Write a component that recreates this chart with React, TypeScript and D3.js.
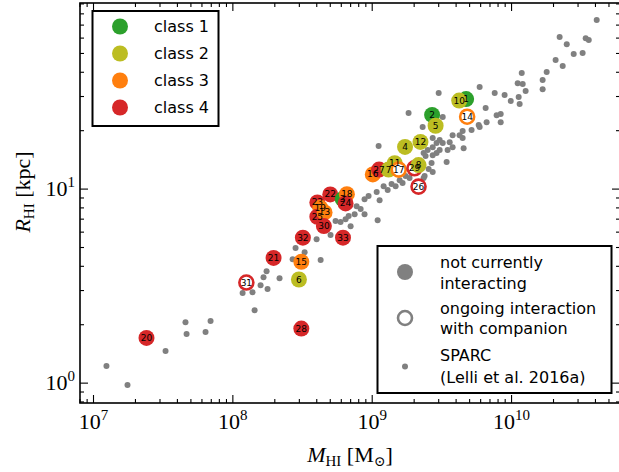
import React from "react";
import * as d3 from "d3";

// Sample galaxies (draw order), their class, HI mass [Msun], HI radius [kpc]
const galaxyIds = [16, 27, 7, 11, 17, 29, 8, 4, 12, 26, 1, 10, 2, 5, 14, 22, 3, 18, 24, 23, 19, 25, 13, 30, 32, 33, 21, 15, 6, 31, 28, 20];
const galaxyClass = [3, 4, 2, 2, 3, 4, 2, 2, 2, 4, 1, 2, 1, 2, 3, 4, 1, 3, 4, 4, 3, 4, 3, 4, 4, 4, 4, 3, 2, 4, 4, 4];
const galaxyMHI = [1.01e9, 1.12e9, 1.31e9, 1.45e9, 1.55e9, 2.01e9, 2.15e9, 1.72e9, 2.22e9, 2.15e9, 4.72e9, 4.21e9, 2.69e9, 2.85e9, 4.8e9, 5.0e8, 6.14e8, 6.58e8, 6.44e8, 4.04e8, 4.24e8, 4.04e8, 4.55e8, 4.5e8, 3.18e8, 6.17e8, 1.96e8, 3.1e8, 2.98e8, 1.25e8, 3.1e8, 2.4e7];
const galaxyRHI = [11.9, 12.6, 12.6, 13.6, 12.6, 12.8, 13.3, 16.5, 17.5, 10.3, 29.1, 28.6, 24.1, 21.2, 23.6, 9.39, 8.88, 9.42, 8.44, 8.54, 8.01, 7.2, 7.58, 6.45, 5.62, 5.62, 4.42, 4.22, 3.42, 3.3, 1.91, 1.71];
const interacting = [17, 29, 26, 14, 31];

// SPARC comparison sample, log10 M_HI [Msun] and log10 R_HI [kpc]
const sparcLogM = [7.093, 7.244, 7.517, 7.66, 7.668, 7.804, 7.84, 8.156, 8.07, 8.141, 8.199, 8.249, 8.22, 8.242, 8.335, 8.429, 8.45, 8.515, 8.601, 8.63, 8.701,
  8.737, 8.773, 8.809, 8.845, 8.831, 8.874, 8.888, 8.917, 8.945, 8.945, 8.974, 9.039, 9.032, 9.053, 9.082, 9.111, 9.139, 9.168, 9.197, 9.218, 9.24, 9.268, 9.283, 9.376,
  9.369, 9.398, 9.434, 9.462, 9.046, 9.383, 9.434, 9.462, 9.484, 9.541, 9.534, 9.434, 9.484, 9.506, 9.556, 9.577, 9.577, 9.627, 9.649, 9.649, 9.656, 9.713, 9.764, 9.771,
  9.821, 9.814, 9.893, 9.922, 9.922, 9.506, 9.261, 9.362, 9.477, 9.771, 9.879, 9.95, 9.994, 10.051, 10.058, 10.044, 10.08, 10.101, 10.073, 10.223, 10.223, 10.252,
  10.345, 10.396, 10.446, 10.51, 10.532, 10.554, 10.611, 10.316, 10.367, 9.426, 9.405, 9.369, 9.434];
const sparcLogR = [0.088, -0.01, 0.165, 0.314, 0.253, 0.263, 0.32, 0.376, 0.464, 0.469, 0.505, 0.485, 0.546, 0.577, 0.541, 0.639, 0.696, 0.675, 0.742, 0.634, 0.763,
  0.835, 0.83, 0.845, 0.809, 0.861, 0.871, 0.912, 0.897, 0.871, 0.948, 0.964, 0.84, 0.985, 0.943, 1.015, 0.995, 1.026, 1.015, 1.046, 1.031, 1.067, 1.057, 1.088, 1.067,
  1.186, 1.201, 1.216, 1.237, 1.222, 1.17, 1.175, 1.186, 1.201, 1.201, 1.139, 1.263, 1.253, 1.237, 1.242, 1.216, 1.278, 1.278, 1.299, 1.263, 1.211, 1.304, 1.33, 1.32,
  1.345, 1.418, 1.381, 1.387, 1.345, 1.371, 1.392, 1.32, 1.495, 1.526, 1.495, 1.485, 1.454, 1.474, 1.438, 1.546, 1.541, 1.505, 1.598, 1.562, 1.515, 1.603,
  1.784, 1.747, 1.696, 1.701, 1.778, 1.768, 1.871, 1.665, 1.634, 1.134, 1.103, 1.057, 1.088];

const classNames = ["class 1", "class 2", "class 3", "class 4"];
const classColors = ["#2ca02c", "#bcbd22", "#ff7f0e", "#d62728"];
const xMajor = [7, 8, 9, 10];
const yMajor = [0, 1];

const W = 619;
const H = 472;
const left = 80, right = 620, top = 3, bottom = 403;
const serif = "'Liberation Serif', 'DejaVu Serif', serif";
const sans = "'DejaVu Sans', sans-serif";

export default function App() {
  const x = d3.scaleLog().domain([8e6, 6e10]).range([left, right]);
  const y = d3.scaleLog().domain([0.79, 91]).range([bottom, top]);

  const minor = (dom: number[]) => {
    const out: number[] = [];
    for (let e = -1; e <= 11; e++) {
      for (let k = 2; k <= 9; k++) {
        const v = k * Math.pow(10, e);
        if (v >= dom[0] && v <= dom[1]) out.push(v);
      }
    }
    return out;
  };
  const xMinor = minor(x.domain());
  const yMinor = minor(y.domain());
  const majLen = 8, minLen = 4;

  const points = galaxyIds.map((id, i) => ({
    id,
    cls: galaxyClass[i],
    m: galaxyMHI[i],
    r: galaxyRHI[i],
    ring: interacting.includes(id),
  }));

  return (
    <svg width={W} height={H} style={{ position: "absolute", left: 0, top: 0, background: "#fff" }}>
      <defs>
        <clipPath id="plotArea">
          <rect x={left} y={top} width={right - left} height={bottom - top} />
        </clipPath>
      </defs>
      <rect x={0} y={0} width={W} height={H} fill="#fff" />

      <g clipPath="url(#plotArea)">
        {sparcLogM.map((lm, i) => (
          <circle key={"s" + i} cx={x(Math.pow(10, lm))} cy={y(Math.pow(10, sparcLogR[i]))} r={3} fill="#808080" />
        ))}
        {points.map((p) => {
          const c = classColors[p.cls - 1];
          return p.ring ? (
            <circle key={"g" + p.id} cx={x(p.m)} cy={y(p.r)} r={7} fill="#fff" stroke={c} strokeWidth={2.6} />
          ) : (
            <circle key={"g" + p.id} cx={x(p.m)} cy={y(p.r)} r={8} fill={c} />
          );
        })}
        {points.map((p) => (
          <text key={"t" + p.id} x={x(p.m)} y={y(p.r)} fontFamily={sans} fontSize={9} textAnchor="middle" dominantBaseline="central" fill="#000">
            {p.id}
          </text>
        ))}
      </g>

      {/* ticks, pointing inward on all four sides */}
      <g stroke="#000" strokeWidth={1.1}>
        {xMajor.map((e) => {
          const px = x(Math.pow(10, e));
          return (
            <g key={"xM" + e}>
              <line x1={px} x2={px} y1={bottom} y2={bottom - majLen} />
              <line x1={px} x2={px} y1={top} y2={top + majLen} />
            </g>
          );
        })}
        {xMinor.map((v, i) => {
          const px = x(v);
          return (
            <g key={"xm" + i}>
              <line x1={px} x2={px} y1={bottom} y2={bottom - minLen} />
              <line x1={px} x2={px} y1={top} y2={top + minLen} />
            </g>
          );
        })}
        {yMajor.map((e) => {
          const py = y(Math.pow(10, e));
          return (
            <g key={"yM" + e}>
              <line x1={left} x2={left + majLen} y1={py} y2={py} />
              <line x1={right} x2={right - majLen} y1={py} y2={py} />
            </g>
          );
        })}
        {yMinor.map((v, i) => {
          const py = y(v);
          return (
            <g key={"ym" + i}>
              <line x1={left} x2={left + minLen} y1={py} y2={py} />
              <line x1={right} x2={right - minLen} y1={py} y2={py} />
            </g>
          );
        })}
      </g>
      <rect x={left} y={top} width={right - left} height={bottom - top} fill="none" stroke="#000" strokeWidth={1.6} />

      {/* tick labels */}
      {xMajor.map((e) => (
        <text key={"xl" + e} x={x(Math.pow(10, e))} y={429} fontFamily={serif} fontSize={22} textAnchor="middle">
          10<tspan dy={-9} fontSize={15}>{e}</tspan>
        </text>
      ))}
      {yMajor.map((e) => (
        <text key={"yl" + e} x={75} y={y(Math.pow(10, e)) + 7} fontFamily={serif} fontSize={22} textAnchor="end">
          10<tspan dy={-9} fontSize={15}>{e}</tspan>
        </text>
      ))}

      {/* axis titles */}
      <text x={350} y={462} fontFamily={serif} fontSize={22} textAnchor="middle">
        <tspan fontStyle="italic">M</tspan>
        <tspan fontSize={15} dy={4}>HI</tspan>
        <tspan dy={-4}> [M</tspan>
        <tspan fontSize={14} dy={4}>⊙</tspan>
        <tspan dy={-4}>]</tspan>
      </text>
      <text transform="translate(30,192) rotate(-90)" fontFamily={serif} fontSize={22} textAnchor="middle">
        <tspan fontStyle="italic">R</tspan>
        <tspan fontSize={15} dy={4}>HI</tspan>
        <tspan dy={-4}> [kpc]</tspan>
      </text>

      {/* class legend */}
      <rect x={92.5} y={11} width={126} height={115} fill="#fff" stroke="#000" strokeWidth={2} />
      {classNames.map((n, i) => (
        <g key={n}>
          <circle cx={120} cy={26.5 + i * 27} r={8} fill={classColors[i]} />
          <text x={154} y={26.5 + i * 27} fontFamily={sans} fontSize={16} dominantBaseline="central">
            {n}
          </text>
        </g>
      ))}

      {/* marker legend */}
      <rect x={377.5} y={246} width={234} height={147} fill="#fff" stroke="#000" strokeWidth={2} />
      <circle cx={405} cy={272} r={8} fill="#808080" />
      <circle cx={405} cy={318} r={7} fill="#fff" stroke="#808080" strokeWidth={2.6} />
      <circle cx={405} cy={366.5} r={3} fill="#808080" />
      <g fontFamily={sans} fontSize={16} dominantBaseline="central">
        <text x={440} y={262}>not currently</text>
        <text x={440} y={283}>interacting</text>
        <text x={440} y={308}>ongoing interaction</text>
        <text x={440} y={328}>with companion</text>
        <text x={440} y={355}>SPARC</text>
        <text x={440} y={377}>(Lelli et al. 2016a)</text>
      </g>
    </svg>
  );
}
